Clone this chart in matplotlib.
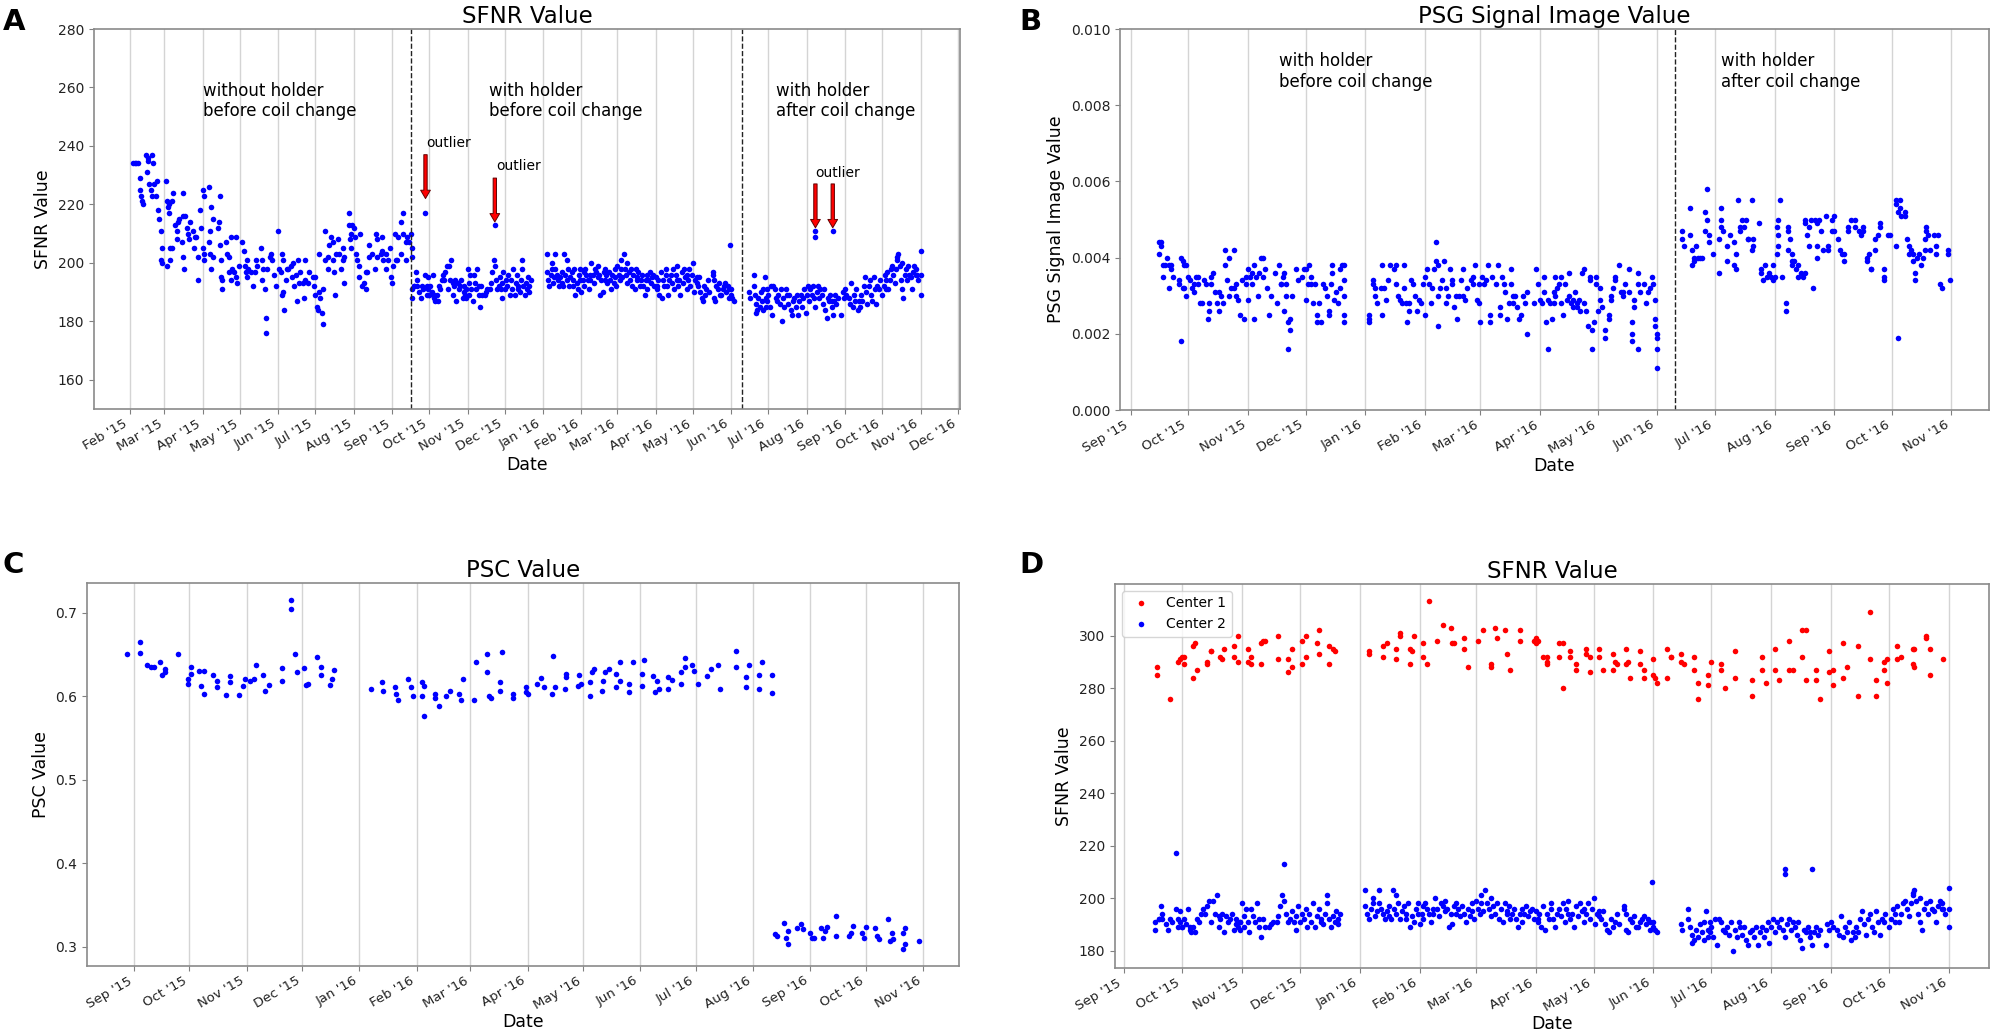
import datetime as dt
import matplotlib
matplotlib.use("Agg")
import matplotlib.pyplot as plt
import matplotlib.dates as mdates
from matplotlib.ticker import FormatStrFormatter

# daily phantom readings: None = no scan that day, tuple = several scans that day

# A: SFNR, without holder, before coil change (from 4 Feb 2015)
sfnr_no_holder_start = "2015-02-04"
sfnr_no_holder = [
    234, 234, 234, None, 234, (229, 225), 223, 221, 220,
    None, 237, 231, (236, 235), 227, 225, (237, 223), 234, 227, 223,
    228, 218, 215, (211, 201), (205, 200), None, None, 228, (221, 199), 219, (217, 220), (205, 201),
    (205, 221), 224, None, 213, (211, 208), 214, 215, None, 207, (224, 216, 202), 198, 216, 212,
    210, 208, 214, None, 211, 205, 209, 209, (202, 194), None, 218, 212, (205, 225), (223, 203, 201),
    None, None,
    None, (226, 207), (211, 203), (219, 198), (215, 202), None, None, None, 212, 214, (223, 206), (195, 201), (194, 191),
    None, None, 207, 203, (202, 197), None, (209, 194), 198, 197, None, (209, 195), 193, 199,
    None, None, 207, 204, 199, 197, (201, 195), 198, None, 197, None, 192, 197, 201, 199,
    None, None, 205, (201, 194), 198, 191, (181, 176), 198, None,
    202, 203, 201, None, 196, 192, None, 211, 198, 197, (203, 189), (201, 190), 184,
    194, 198, 198, None, 199, 195, 200, 192, 196, 187, 201, 193,
    197, None, 193, 188, (201, 194), None, 193, 197, None, None, 195, 192, (195, 189), 185, 184,
    (203, 190), 188, 183, (179, 191), None, (211, 201), None, (198, 202), 206,
    None, 209, (207, 201), 197, 189, 203, 208, 203, None, 198, (201, 205), (193, 202),
    None, None, None, (217, 213), 208, (205, 210), 213, 212, 209, 203, 201, (195, 199), 210,
    None, 192, 193, None, (191, 197), 197, (206, 202), None, None, 203, None, 198, 210, (208, 202),
    None, None, 203, (209, 204), 201, None, (203, 198), None, 201, 205, 195, 193, 199, 210, 201,
    201, 209, None, (203, 214), None, (217, 210), None, (207, 201), 209, None, 207, 210, (205, 202),
]

# A/D: SFNR, with holder, before coil change (from 16 Sep 2015)
sfnr_old_coil_start = "2015-09-16"
sfnr_old_coil = [
    None, (188, 191), None, (192, 192), 197, (194, 192), None, 190, 188, 192,
    191, None, (217, 196), (192, 189), (195, 191),
    # Oct
    (189, 189), 192, 190, 196, (189, 188), 187, 189, 187, 192, 191,
    194, 196, 194, 197, 199, 191, 199, 194, 201, (193, 189),
    192, 194, 187, 193, 191, 192, 194, 188, (190, 192), 189, (191, 191, 188),
    # Nov
    198, (193, 189), 196, 191, 187, 196, 193, 191, 198, (192, 189),
    185, 192, 189, None, 189, 190, 191, None, 191, 193,
    197, 201, (213, 199), 194, 191, 192, 195, 191, (193, 188), 197,
    # Dec 1-22
    191, 194, 192, 196, 189, 194, 191, 198, 189, 193,
    196, (191, 192), 190, 194, (201, 198), 192, 189, 193, 191, 195,
    (192, 190), 194,
    # holiday break
    None, None, None, None, None, None, None, None, None, None, None, None,
    # Jan 4-31
    (203, 197), 194, 192, 196, (198, 200), 193, 195, (203, 198), 196, 194,
    192, 195, (193, 197), 192, 203, 196, (201, 194), 198, 192, 195,
    197, (194, 192), 198, 189, 193, 191, 196, (194, 198),
    # Feb
    190, 194, (197, 192), 198, 196, 194, 191, (196, 194), 200, 196,
    193, 198, 197, (195, 199), 196, 189, 194, 190, 197, (194, 198),
    196, 193, 197, 194, 191, 196, 193, (198, 195), 192,
    # Mar
    199, 196, 194, (198, 201), 195, 203, 198, 196, (200, 193), 197,
    194, 198, 192, 196, 191, 198, (195, 194), 197, 192, 194,
    196, 192, 189, 194, (196, 191), 194, 197, 193, 195, 196, 192,
    # Apr
    195, (192, 191), 194, 189, 197, 188, 194, 192, (196, 198), 192,
    189, 194, 196, 193, 198, 191, 196, (194, 199), 192, 194,
    189, 197, 193, 198, 195, (191, 196), 194, 198, 192, 196,
    # May
    200, 190, 194, (193, 195), 192, 195, 190, 188, 187, 192,
    189, 191, 194, 190, None, None, (196, 197), (194, 188), 187, 192,
    191, 193, 189, 189, 191, 192, 193, 190, 192, (188, 191), 206,
    # Jun 1-3
    (189, 191), 188, 187,
]

# A/D: SFNR, with holder, after coil change (from 15 Jun 2016)
sfnr_new_coil_start = "2016-06-15"
sfnr_new_coil = [
    190, 188, None, None, (196, 192), 189, (183, 186), 184, 188, 185,
    190, 187, (184, 191), 195, (188, 185), (191, 187),
    # Jul
    189, 185, 192, 182, 192, 191, 188, 187, 189, 186,
    191, 180, 188, 185, 191, 189, 186, 189, 184, 182,
    187, 188, 185, 189, 182, 187, 189, 185, 188, 191, 183,
    # Aug
    189, 192, 187, 191, 189, 192, 188, (211, 209, 185), 190, 192,
    188, 191, 189, 186, 191, 184, 181, 188, 187, 189,
    (185, 187), (211, 182), 187, 189, 186, 188, None, None, 182, 190, 188,
    # Sep
    191, 189, None, 188, 186, 193, 185, 189, 187, 191,
    184, 187, 185, 189, 187, 192, 195, 190, 186, 192,
    194, 189, 187, 195, 191, 186, 192, 191, 194, None,
    # Oct + 1 Nov
    189, 192, 196, (191, 194), 197, 191, 194, 198, 199, 196,
    193, 198, (201, 202), 203, 199, 194, (200, 191), 188, 196, 198,
    194, 199, 196, 195, 191, 197, 199, (198, 196), 196, 194, None,
    (204, 196, 189),
]

# B: PSG signal image value, in units of 1e-4
psg_old_coil_start = "2015-09-16"
psg_old_coil = [
    (44, 41), (44, 43), (38, 35), 38, 40, (38, 32), (38, 37), 35, None, None,
    (33, 34), (18, 40), (39, 32), (38, 32), (38, 30),
    # Oct
    35, 34, 32, (33, 31), 35, (33, 35), 28, 28, 34, 33,
    24, (28, 26), (35, 33), 36, 31, 28, (31, 26), 30, 28, (42, 38),
    34, (40, 30), 32, None, (42, 32), (33, 30), 29, 25, 34, 24, (33, 35),
    # Nov
    (37, 29), 35, (36, 33), (24, 38), 35, 30, 36, 40, (35, 40), 37,
    32, 25, 30, None, 36, 28, 38, (33, 33), 35, (36, 26),
    (33, 30), (23, 16), (24, 21), 30, None, 37, 34, None, 35, 37,
    # Dec 1-21
    (37, 29), 33, 38, (33, 35), 28, 33, (25, 23), 28, 23, 33,
    32, 30, (25, 26), 33, (36, 38), 29, 31, 28, (37, 32), 38,
    (38, 34, 30, 25, 23),
    None, None, None, None, None, None, None, None, None, None, None, None,
    # Jan 3-31
    (25, 24, 23), None, (33, 34), (32, 30), 28, None, 32, (38, 25), 32, 29,
    34, 38, None, 37, (38, 33), 30, 29, 28, (38, 32), 28,
    23, (28, 26), 34, 33, 30, 26, 29, 28, 33,
    # Feb
    (25, 35), 37, 33, 28, 32, 37, (39, 44), (38, 30, 22), 32, 34,
    39, (32, 28), 30, 37, (34, 33), 27, 30, 24, 30, 34,
    (37, 30), 29, 32, None, 34, (35, 33), 38, 29, (28, 33),
    # Mar
    23, 35, 33, 34, 38, (25, 23), 35, None, 33, 38,
    (27, 25), 35, 33, 31, 24, 28, (33, 37), (30, 28), 30, 27,
    24, 25, 30, 28, (20, 31), None, None, None, 28, 37, 33,
    # Apr
    29, 28, (35, 31), 23, (16, 29), 28, 24, (31, 28), (35, 30), 32,
    33, (35, 28), 25, 33, 29, (36, 30), 28, (27, 29), 31, (28, 27),
    29, 26, 36, (37, 28), 26, 22, (34, 35), (16, 21), 23, (33, 35),
    # May
    26, (32, 29), 27, None, (21, 19), None, (25, 24), (29, 30), 32, (34, 35),
    None, 38, 31, (31, 30), 33, None, (37, 31), None, (23, 20, 18), (29, 27),
    None, (36, 16, 33), 31, None, 33, 28, 31, 32, 35, 33, (29, 24, 22),
    # Jun 1
    (16, 20, 11, 19),
]

psg_new_coil_start = "2016-06-14"
psg_new_coil = [
    (47, 45), 43, None, None, (53, 46), (42, 38), (39, 40), 43, 40, 40,
    40, None, (47, 52), (50, 58), (46, 44), None, 41,
    # Jul
    None, None, (45, 36), (53, 50, 48), 47, None, (43, 39), None, 46, None,
    (44, 38), (37, 41), 55, (48, 47), 50, 48, 50, (45, 45), None, (55, 42),
    (43, 45), None, None, 49, (37, 36), 34, 38, 35, 36, 35, (38, 34),
    # Aug
    35, (41, 48), (46, 43, 50), 55, 35, None, (28, 26), (48, 42, 47), 45, (39, 41, 38),
    39, 37, (35, 38), None, 36, 35, (36, 50, 49), 46, (48, 43), 50,
    32, 50, (49, 40, 43), 50, 47, 42, None, 51, (42, 43), None, (47, 50),
    # Sep
    (51, 47), None, 45, 42, 41, (41, 39), None, (48, 47), None, 50,
    None, (50, 48), None, 47, 46, (48, 47), None, (39, 40), 41, (37, 37),
    None, (45, 42), None, 46, (49, 48), None, (37, 35, 34), None, 46, 46,
    # Oct
    None, None, (55, 54, 43), (52, 19), (55, 53), 51, None, (52, 51), 45, (41, 43),
    42, (39, 41), (36, 34), 40, 41, 38, 40, (42, 45), (48, 47), 46,
    42, None, 46, (43, 41), 46, 33, 32, None, None, (42, 41), 34,
]

# C: PSC value, days counted from 1 Sep 2015
psc_start = "2015-09-01"
psc_day = [
    -4, 3, 3, 7, 9, 11, 14, 15, 17, 17, 24, 29, 29, 31, 31, 35, 36, 38, 38, 43,
    45, 45, 50, 52, 52, 57, 59, 60, 63, 65, 66, 70, 71, 73, 80, 80, 85, 85, 87, 88,
    92, 93, 94, 99, 101, 101, 106, 107, 108,
    128, 134, 135, 141, 142, 143, 148, 150, 151, 156, 156, 157, 157, 163, 163, 165, 169, 171, 176, 177,
    178, 184, 185, 191, 191, 192, 193, 198, 198, 199, 205, 205, 212, 212, 213, 218, 220, 222, 226, 227,
    228, 233, 234, 234, 240, 241, 242, 247, 247, 248, 249, 253, 254, 255, 257, 261, 261, 263, 263, 268,
    268, 270, 275, 275, 276, 281, 282, 283, 284, 289, 289, 291, 296, 296, 298, 298, 302, 303, 305, 310,
    312, 316, 317, 326, 326, 331, 331, 333, 338, 338, 340, 345, 345,
    347, 348, 352, 353, 354, 354, 359, 361, 362, 366, 367, 368, 372, 373, 374, 375, 380, 380, 387, 388,
    389, 394, 395, 396, 401, 402, 403, 408, 409, 410, 411, 416, 416, 417, 417, 425,
]
psc_val = [
    0.651, 0.665, 0.652, 0.637, 0.635, 0.635, 0.641, 0.626, 0.633, 0.629,
    0.651, 0.615, 0.621, 0.635, 0.627, 0.631, 0.613, 0.631, 0.603, 0.626,
    0.611, 0.619, 0.602, 0.625, 0.617, 0.602, 0.613, 0.621, 0.619, 0.621,
    0.637, 0.626, 0.607, 0.614, 0.619, 0.634, 0.715, 0.705, 0.651, 0.629,
    0.634, 0.614, 0.615, 0.647, 0.635, 0.626, 0.614, 0.621, 0.632,
    0.609, 0.617, 0.606, 0.611, 0.603, 0.596, 0.621, 0.611, 0.601, 0.617,
    0.601, 0.613, 0.576, 0.603, 0.598, 0.589, 0.601, 0.607, 0.603, 0.596,
    0.621, 0.596, 0.641, 0.651, 0.629, 0.601, 0.598, 0.617, 0.607, 0.653,
    0.603, 0.598, 0.611, 0.605, 0.603, 0.615, 0.622, 0.611, 0.603, 0.648,
    0.611, 0.609, 0.623, 0.627, 0.613, 0.626, 0.615, 0.601, 0.617, 0.629,
    0.633, 0.606, 0.619, 0.629, 0.633, 0.627, 0.611, 0.619, 0.641, 0.605,
    0.615, 0.641, 0.627, 0.613, 0.643, 0.625, 0.605, 0.619, 0.609, 0.623,
    0.609, 0.620, 0.615, 0.629, 0.635, 0.646, 0.638, 0.631, 0.615, 0.625,
    0.633, 0.637, 0.609, 0.654, 0.635, 0.623, 0.611, 0.637, 0.609, 0.626,
    0.641, 0.626, 0.604,
    0.316, 0.313, 0.329, 0.311, 0.319, 0.303, 0.323, 0.327, 0.321, 0.317,
    0.311, 0.311, 0.323, 0.311, 0.319, 0.324, 0.337, 0.313, 0.313, 0.317,
    0.325, 0.317, 0.311, 0.324, 0.323, 0.313, 0.309, 0.333, 0.307, 0.317,
    0.309, 0.317, 0.298, 0.323, 0.303, 0.307,
]

# D: Center 1 SFNR, days counted from 1 Oct 2015
center1_start = "2015-10-01"
center1_day = [
    -13, -13, -6, -2, -1, 0, 1, 1, 6, 6, 7, 8, 13, 13, 15, 15, 20, 21, 22, 27,
    27, 29, 29, 34, 34, 36, 36, 41, 41, 42, 43, 50, 50, 55, 55, 57, 57, 62, 62, 64,
    64, 70, 71, 71, 76, 76, 78, 79,
    97, 97, 104, 104, 106, 111, 111, 113, 113, 118, 119, 118, 120, 125, 125, 127, 128, 132, 135, 139,
    140, 141, 146, 146, 148, 153, 156, 160, 160, 162, 163, 167, 168, 170, 175, 175, 182, 183, 183, 184,
    189, 189,
    187, 189, 195, 195, 197, 197, 201, 201, 204, 204, 209, 209, 211, 211, 216, 216, 218, 223, 223, 224,
    225, 230, 230, 231, 232, 237, 237, 239, 239, 244, 244, 245, 246, 251, 251, 253, 253, 258, 258, 260,
    265, 265, 267, 267, 272, 272, 274, 279, 279, 281, 286, 286, 295, 295, 300, 300, 302, 307, 307, 309,
    314, 314, 316, 321, 321, 323, 323, 328, 328, 330, 335, 335, 337, 337, 342, 342, 344, 350, 350, 356,
    356, 359, 359, 363, 363, 365, 365, 370, 370, 372, 378, 378, 379, 379, 385, 385, 387, 387, 394,
]
center1_val = [
    288, 285, 276, 290, 291, 292, 289, 292, 284, 296, 297, 287, 290, 289, 294, 294, 292, 291, 295, 296,
    292, 300, 290, 295, 290, 292, 289, 289, 297, 298, 298, 300, 291, 286, 291, 295, 288, 298, 289, 300,
    292, 297, 302, 293, 296, 289, 295, 294,
    294, 293, 292, 296, 297, 295, 291, 301, 300, 295, 294, 289, 300, 297, 292, 289, 313, 298, 304, 303,
    297, 297, 299, 295, 288, 298, 302, 289, 288, 303, 299, 302, 293, 287, 302, 298, 298, 299, 297, 298,
    292, 289,
    292, 290, 292, 297, 297, 280, 294, 292, 289, 287, 295, 293, 292, 286, 295, 292, 287, 293, 287, 290,
    289, 295, 289, 290, 284, 294, 289, 287, 284, 291, 285, 284, 282, 295, 284, 292, 292, 293, 290, 289,
    292, 287, 282, 276, 285, 281, 290, 289, 287, 280, 294, 284, 283, 277, 292, 287, 282, 295, 287, 283,
    298, 287, 287, 302, 292, 302, 283, 287, 283, 276, 294, 286, 287, 281, 297, 284, 288, 296, 277, 309,
    291, 283, 277, 287, 290, 282, 291, 296, 291, 292, 295, 289, 295, 288, 300, 299, 295, 285, 291,
]


def daily(start, entries, scale=1.0):
    d0 = dt.date.fromisoformat(start)
    xs, ys = [], []
    for i, e in enumerate(entries):
        if e is None:
            continue
        for v in (e if isinstance(e, tuple) else (e,)):
            xs.append(d0 + dt.timedelta(days=i))
            ys.append(v * scale)
    return xs, ys


def by_offset(start, days, vals):
    d0 = dt.date.fromisoformat(start)
    return [d0 + dt.timedelta(days=d) for d in days], list(vals)


def style(ax, title, ylabel):
    ax.set_title(title, fontsize=16.5, pad=4)
    ax.set_xlabel("Date", fontsize=12.5, labelpad=1)
    ax.set_ylabel(ylabel, fontsize=12.5)
    ax.xaxis.set_major_locator(mdates.MonthLocator())
    ax.xaxis.set_major_formatter(mdates.DateFormatter("%b '%y"))
    ax.grid(axis="x", color="#d4d4d4", linewidth=1)
    ax.set_axisbelow(True)
    ax.tick_params(labelsize=10, color="#808080", labelcolor="#222222")
    ax.tick_params(axis="x", labelsize=9.5, pad=2.5)
    for s in ax.spines.values():
        s.set_color("#8a8a8a")
        s.set_linewidth(1.2)


def dots(ax, xs, ys, color, label=None):
    ax.plot(xs, ys, "o", color=color, markersize=4, markeredgewidth=0, label=label)


def arrow(ax, x, tail, tip):
    ax.annotate("", xy=(x, tip), xytext=(x, tail),
                arrowprops=dict(facecolor="red", edgecolor="#600000", linewidth=0.7,
                                width=2.4, headwidth=7, headlength=6, shrink=0))


plt.rcParams["font.family"] = ["DejaVu Sans"]
fig = plt.figure(figsize=(20, 10.36), dpi=100)

axA = fig.add_axes([0.047, 0.6052, 0.433, 0.3668])
axB = fig.add_axes([0.56, 0.6042, 0.4345, 0.3678])
axC = fig.add_axes([0.0435, 0.0676, 0.436, 0.3697])
axD = fig.add_axes([0.5575, 0.0656, 0.437, 0.3707])

# --- A
a1 = daily(sfnr_no_holder_start, sfnr_no_holder)
a2 = daily(sfnr_old_coil_start, sfnr_old_coil)
a3 = daily(sfnr_new_coil_start, sfnr_new_coil)
for xs, ys in (a1, a2, a3):
    dots(axA, xs, ys, "blue")
axA.set_ylim(150, 280)
style(axA, "SFNR Value", "SFNR Value")
axA.axvline(dt.date(2015, 9, 16), color="#222222", linestyle="--", linewidth=1)
axA.axvline(dt.date(2016, 6, 10), color="#222222", linestyle="--", linewidth=1)
axA.text(dt.date(2015, 4, 1), 262, "without holder\nbefore coil change", fontsize=12, va="top")
axA.text(dt.date(2015, 11, 18), 262, "with holder\nbefore coil change", fontsize=12, va="top")
axA.text(dt.date(2016, 7, 7), 262, "with holder\nafter coil change", fontsize=12, va="top")
axA.text(dt.date(2015, 9, 29), 239.8, "outlier", fontsize=10)
axA.text(dt.date(2015, 11, 24), 231.9, "outlier", fontsize=10)
axA.text(dt.date(2016, 8, 8), 229.5, "outlier", fontsize=10)
arrow(axA, dt.date(2015, 9, 28), 237, 222)
arrow(axA, dt.date(2015, 11, 23), 229, 214)
arrow(axA, dt.date(2016, 8, 8), 227, 212)
arrow(axA, dt.date(2016, 8, 22), 227, 212)

# --- B
b1 = daily(psg_old_coil_start, psg_old_coil, 1e-4)
b2 = daily(psg_new_coil_start, psg_new_coil, 1e-4)
for xs, ys in (b1, b2):
    dots(axB, xs, ys, "blue")
axB.set_ylim(0, 0.010)
axB.yaxis.set_major_formatter(FormatStrFormatter("%.3f"))
style(axB, "PSG Signal Image Value", "PSG Signal Image Value")
axB.axvline(dt.date(2016, 6, 10), color="#222222", linestyle="--", linewidth=1)
axB.text(dt.date(2015, 11, 17), 0.0094, "with holder\nbefore coil change", fontsize=12, va="top")
axB.text(dt.date(2016, 7, 4), 0.0094, "with holder\nafter coil change", fontsize=12, va="top")

# --- C
cx, cy = by_offset(psc_start, psc_day, psc_val)
dots(axC, cx, cy, "blue")
style(axC, "PSC Value", "PSC Value")

# --- D
rx, ry = by_offset(center1_start, center1_day, center1_val)
dots(axD, rx, ry, "red", "Center 1")
bx = a2[0] + a3[0]
by = a2[1] + a3[1]
dots(axD, bx, by, "blue", "Center 2")
style(axD, "SFNR Value", "SFNR Value")
axD.legend(loc="upper left", fontsize=10, numpoints=1)

for ax in (axA, axB, axC, axD):
    plt.setp(ax.get_xticklabels(), rotation=30, ha="right")

for letter, x, y in (("A", 0.0015, 0.992), ("B", 0.5095, 0.992),
                     ("C", 0.0015, 0.468), ("D", 0.5095, 0.468)):
    fig.text(x, y, letter, fontsize=21, fontweight="bold", va="top")

fig.savefig("out.png", dpi=100)
